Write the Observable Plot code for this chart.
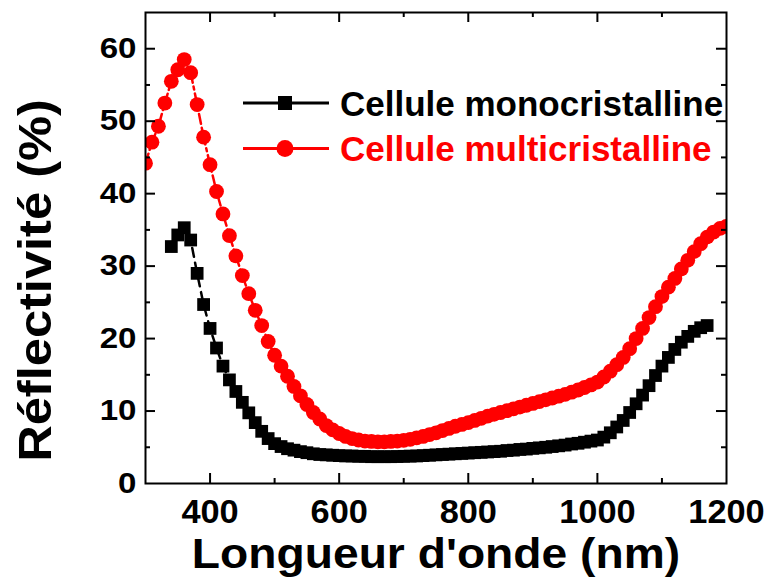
<!DOCTYPE html>
<html>
<head>
<meta charset="utf-8">
<script src="https://cdn.jsdelivr.net/npm/d3@7"></script>
<script src="https://cdn.jsdelivr.net/npm/@observablehq/plot@0.6"></script>
<style>
  html, body { margin: 0; padding: 0; background: #fff; }
  svg { font-family: "Liberation Sans", Arial, sans-serif; }
</style>
</head>
<body>
<div id="chart"></div>
<script>
// ---- data ----
const wavelengthMulti = [300,310,320,330,340,350,360,370,380,390,400,410,420,430,440,450,460,470,480,490,500,510,520,530,540,550,560,570,580,590,600,610,620,630,640,650,660,670,680,690,700,710,720,730,740,750,760,770,780,790,800,810,820,830,840,850,860,870,880,890,900,910,920,930,940,950,960,970,980,990,1000,1010,1020,1030,1040,1050,1060,1070,1080,1090,1100,1110,1120,1130,1140,1150,1160,1170,1180,1190,1200];
const reflMulti = [44.2,47.1,49.3,52.5,55.5,57.1,58.5,56.7,52.3,47.8,44.0,40.3,37.2,34.2,31.4,28.7,26.2,23.9,21.8,19.6,17.7,16.2,14.8,13.4,12.1,10.9,9.8,8.9,8.0,7.4,6.9,6.5,6.2,6.0,5.85,5.8,5.75,5.75,5.8,5.85,5.95,6.1,6.3,6.5,6.75,7.0,7.3,7.6,7.9,8.15,8.4,8.7,9.0,9.3,9.55,9.8,10.05,10.3,10.55,10.8,11.05,11.3,11.55,11.8,12.05,12.3,12.6,12.9,13.25,13.6,14.0,14.7,15.5,16.4,17.4,18.6,20.0,21.4,22.9,24.4,25.8,27.1,28.3,29.6,30.8,32.0,33.1,34.0,34.7,35.2,35.5];

const wavelengthMono = [340,350,360,370,380,390,400,410,420,430,440,450,460,470,480,490,500,510,520,530,540,550,560,570,580,590,600,610,620,630,640,650,660,670,680,690,700,710,720,730,740,750,760,770,780,790,800,810,820,830,840,850,860,870,880,890,900,910,920,930,940,950,960,970,980,990,1000,1010,1020,1030,1040,1050,1060,1070,1080,1090,1100,1110,1120,1130,1140,1150,1160,1170];
const reflMono = [32.7,34.3,35.3,33.6,29.0,24.7,21.4,18.7,16.2,14.3,12.7,11.2,9.75,8.4,7.2,6.2,5.5,5.1,4.8,4.6,4.4,4.25,4.1,4.0,3.95,3.9,3.85,3.8,3.8,3.75,3.75,3.7,3.7,3.7,3.7,3.72,3.75,3.78,3.8,3.85,3.9,3.95,4.0,4.05,4.1,4.15,4.2,4.25,4.3,4.35,4.4,4.45,4.55,4.6,4.7,4.75,4.85,4.92,5.0,5.1,5.2,5.3,5.45,5.55,5.7,5.85,6.0,6.4,7.0,7.8,8.7,9.8,11.0,12.2,13.5,14.9,16.2,17.4,18.5,19.5,20.3,21.0,21.5,21.8];

const seriesNames = ["Cellule monocristalline", "Cellule multicristalline"];
const xMajorTicks = [400, 600, 800, 1000];
const xMinorTicks = [500, 700, 900, 1100];
const xTickLabels = [400, 600, 800, 1000, 1200];
const yMajorTicks = [10, 20, 30, 40, 50, 60];
const yMinorTicks = [5, 15, 25, 35, 45, 55];
const yTickLabels = [0, 10, 20, 30, 40, 50, 60];
const xTitle = "Longueur d'onde (nm)";
const yTitle = "Réflectivité (%)";

// ---- build ----
const mono = wavelengthMono.map((w, i) => ({w, r: reflMono[i]}));
const multi = wavelengthMulti.map((w, i) => ({w, r: reflMulti[i]}));

const W = 768, H = 578, mL = 145, mR = 42, mT = 12, mB = 95;
const pw = W - mL - mR, ph = H - mT - mB;
const major = 10, minor = 5;

function legendMark() {
  const g = d3.create("svg:g");
  const items = [
    {name: seriesNames[0], color: "#000000", shape: "square"},
    {name: seriesNames[1], color: "#ff0000", shape: "circle"}
  ];
  items.forEach((it, i) => {
    const y = 103 + i * 45.5;
    g.append("line").attr("x1", 243).attr("x2", 329).attr("y1", y).attr("y2", y)
      .attr("stroke", it.color).attr("stroke-width", 3);
    if (it.shape === "square") {
      g.append("rect").attr("x", 285 - 7).attr("y", y - 7).attr("width", 14).attr("height", 14).attr("fill", it.color);
    } else {
      g.append("circle").attr("cx", 285).attr("cy", y).attr("r", 8.5).attr("fill", it.color);
    }
    g.append("text").attr("x", 340).attr("y", y + 12.5)
      .attr("text-anchor", "start")
      .attr("fill", it.color).attr("font-size", 35).attr("font-weight", "bold")
      .text(it.name);
  });
  return g.node();
}

const chart = Plot.plot({
  width: W, height: H,
  marginLeft: mL, marginRight: mR, marginTop: mT, marginBottom: mB,
  x: {domain: [300, 1200]},
  y: {domain: [0, 65]},
  style: {fontFamily: '"Liberation Sans", Arial, sans-serif', background: "white", color: "black"},
  marks: [
    Plot.line(mono, {x: "w", y: "r", stroke: "black", strokeWidth: 2.5, strokeDasharray: "9,6", clip: true}),
    Plot.line(multi, {x: "w", y: "r", stroke: "#ff0000", strokeWidth: 2.5, strokeDasharray: "10,4,3,4", clip: true}),
    Plot.dot(multi, {x: "w", y: "r", r: 7.4, fill: "#ff0000", symbol: "circle", clip: true}),
    Plot.dot(mono, {x: "w", y: "r", r: 7.2, fill: "black", symbol: "square", clip: true}),
    Plot.frame({stroke: "black", strokeWidth: 2}),
    Plot.ruleX(xMajorTicks, {x: d => d, insetTop: ph - major, stroke: "black", strokeWidth: 2}),
    Plot.ruleX(xMinorTicks, {x: d => d, insetTop: ph - minor, stroke: "black", strokeWidth: 2}),
    Plot.ruleX(xMajorTicks, {x: d => d, insetBottom: ph - major, stroke: "black", strokeWidth: 2}),
    Plot.ruleX(xMinorTicks, {x: d => d, insetBottom: ph - minor, stroke: "black", strokeWidth: 2}),
    Plot.ruleY(yMajorTicks, {y: d => d, insetRight: pw - major, stroke: "black", strokeWidth: 2}),
    Plot.ruleY(yMinorTicks, {y: d => d, insetRight: pw - minor, stroke: "black", strokeWidth: 2}),
    Plot.ruleY(yMajorTicks, {y: d => d, insetLeft: pw - major, stroke: "black", strokeWidth: 2}),
    Plot.ruleY(yMinorTicks, {y: d => d, insetLeft: pw - minor, stroke: "black", strokeWidth: 2}),
    Plot.axisX({ticks: xTickLabels, tickSize: 0, tickPadding: 16, fontSize: 33, fontWeight: "bold", label: null, tickFormat: d => String(d)}),
    Plot.axisY({ticks: yTickLabels, tickSize: 0, tickPadding: 9, fontSize: 29, fontWeight: "bold", label: null, tickFormat: d => String(d)}),
    Plot.text([xTitle], {text: d => d, frameAnchor: "bottom", textAnchor: "middle", lineAnchor: "bottom", dy: 84, fontSize: 42, fontWeight: "bold", fill: "black"}),
    Plot.text([yTitle], {text: d => d, frameAnchor: "left", textAnchor: "middle", lineAnchor: "bottom", rotate: -90, dx: -95, dy: 32.5, fontSize: 46, fontWeight: "bold", fill: "black"}),
    legendMark
  ]
});

document.getElementById("chart").appendChild(chart);

// horizontal glyph stretch to match reference letterforms
function stretch(el, f) {
  const len = el.getComputedTextLength();
  el.setAttribute("textLength", (len * f).toFixed(1));
  el.setAttribute("lengthAdjust", "spacingAndGlyphs");
}
chart.querySelectorAll('g[aria-label="x-axis tick label"] text').forEach(t => stretch(t, 1.04));
chart.querySelectorAll('g[aria-label="y-axis tick label"] text').forEach(t => stretch(t, 1.14));
chart.querySelectorAll("text").forEach(t => {
  if (t.textContent === xTitle) stretch(t, 1.1);
  if (t.textContent === yTitle) stretch(t, 1.1);
});
</script>
</body>
</html>
